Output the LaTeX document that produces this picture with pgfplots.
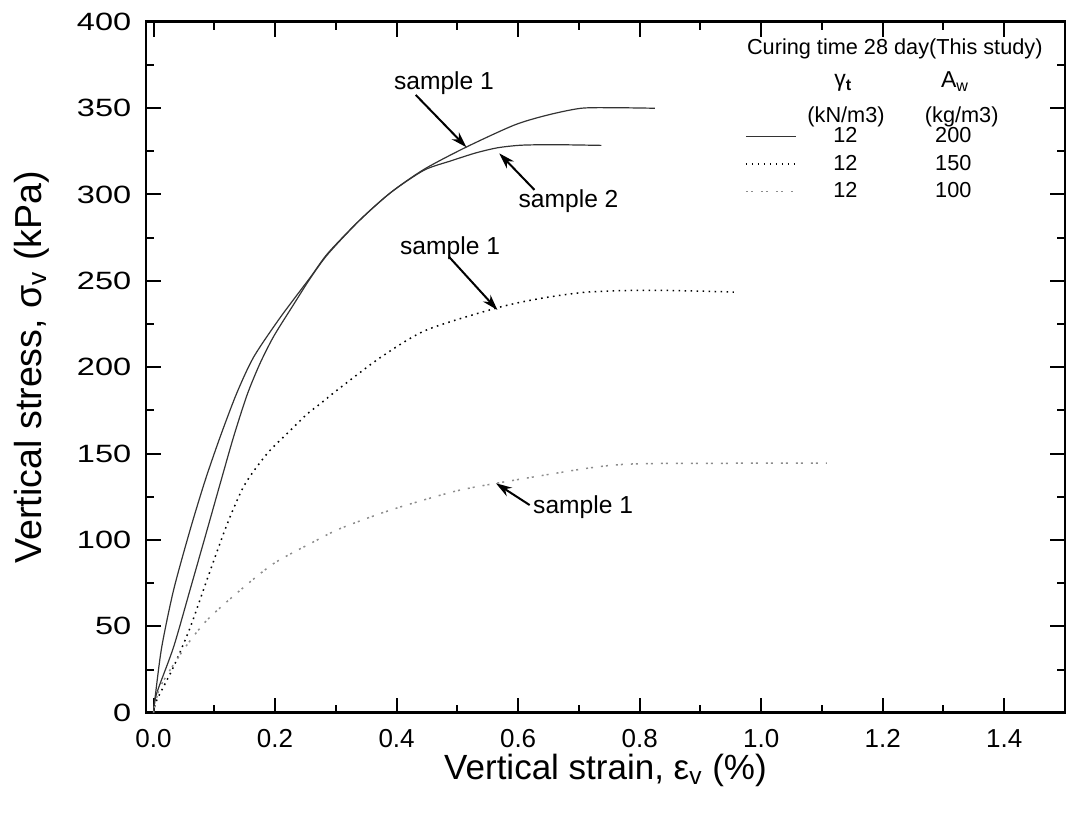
\documentclass[border=0pt]{standalone}
\usepackage{fontspec}
\setmainfont{Liberation Sans}
\usepackage{graphicx}
\usepackage{pgfplots}
\pgfplotsset{compat=1.18}
\usetikzlibrary{arrows.meta,calc}
\begin{document}
\begin{tikzpicture}
\begin{axis}[
  scale only axis, width=459.5pt, height=345.5pt,
  xmin=-0.0124, xmax=1.5, ymin=0, ymax=400,
  xtick={0,0.2,0.4,0.6,0.8,1.0,1.2,1.4},
  ytick={0,50,100,150,200,250,300,350,400},
  minor x tick num=1, minor y tick num=1,
  tick align=inside, tick pos=both,
  xticklabel pos=left, yticklabel pos=left,
  major tick length=7.5pt, minor tick length=4pt,
  every tick/.style={line width=1pt, black},
  axis line style={line width=1.2pt},
  /pgf/number format/assume math mode=true,
  xticklabel style={font=\fontsize{13}{15}\selectfont, anchor=north, inner sep=0pt, yshift=-7.5pt,
    text height=9.5pt, text depth=0pt,
    /pgf/number format/.cd, fixed, fixed zerofill, precision=1},
  yticklabel={\scalebox{1.3}[1]{\pgfmathprintnumber{\tick}}},
  yticklabel style={font=\fontsize{12.5}{14}\selectfont, anchor=east, inner sep=0pt, xshift=-7.2pt},
  xlabel={Vertical strain, ε\textsubscript{v} (\%)},
  xlabel style={font=\fontsize{17.5}{20}\selectfont, at={(axis description cs:0.5,-0.0835)}, anchor=center},
  ylabel={Vertical stress, σ\textsubscript{v} (kPa)},
  ylabel style={font=\fontsize{18.8}{21}\selectfont, at={(axis description cs:-0.124,0.5)}, anchor=center},
  legend image code/.code={\draw[#1] (0pt,0pt) -- (25pt,0pt);},
  legend style={at={(0.6518,0.848)}, anchor=north west, draw=none, fill=none,
    inner sep=0pt, outer sep=0pt, row sep=3.75pt, column sep=0pt,
    font=\fontsize{10.85}{12}\selectfont,
    nodes={inner sep=0pt, text height=8pt, text depth=2pt}},
  legend cell align=left,
  clip=false,
]
% A_w = 200, sample 1
\addplot[black!80, line width=0.6pt, smooth, tension=0.45] coordinates {
(0.000,0) (0.003,10) (0.0135,38) (0.033,71) (0.060,105.6) (0.085,134.5)
(0.110,160) (0.137,185) (0.165,206) (0.209,229) (0.258,252) (0.287,266)
(0.339,285) (0.390,301) (0.445,314.5) (0.514,327.3)
(0.594,340.2) (0.649,346) (0.704,349.9) (0.76,350.2) (0.825,349.9)
};
\addlegendentry{\makebox[49pt]{12}\makebox[58.8pt]{200}}
% A_w = 200, sample 2
\addplot[black!80, line width=0.6pt, smooth, tension=0.45, forget plot] coordinates {
(0.000,0) (0.005,11) (0.033,38) (0.060,71) (0.088,105.6) (0.110,133)
(0.132,160) (0.154,184) (0.175,202) (0.198,218) (0.230,236) (0.258,251.5)
(0.287,265.5) (0.339,285) (0.390,301) (0.445,314)
(0.49,319.5) (0.53,324) (0.566,327) (0.605,328.5) (0.66,328.8) (0.737,328.4)
};
% A_w = 150, sample 1
\addplot[black, line width=0.75pt, dash pattern=on 0.8pt off 2.2pt, smooth, tension=0.45] coordinates {
(0.000,0) (0.005,7) (0.033,26.6) (0.060,49) (0.088,77) (0.121,109)
(0.150,132) (0.187,150) (0.221,162) (0.250,172) (0.262,175.5) (0.275,179)
(0.305,187.5) (0.375,206) (0.449,221.5) (0.567,234.5) (0.64,240) (0.714,243.5)
(0.80,244.5) (0.88,244.2) (0.955,243.5)
};
\addlegendentry{\makebox[49pt]{12}\makebox[58.8pt]{150}}
% A_w = 100, sample 1
\addplot[black!45, line width=0.75pt, dash pattern=on 1pt off 1.5pt on 1pt off 4pt, smooth, tension=0.45] coordinates {
(0.000,0) (0.011,15) (0.049,36.3) (0.088,53.6) (0.143,71) (0.198,86.4)
(0.264,99) (0.308,106.7) (0.39,117.3) (0.493,127.9) (0.564,132.8)
(0.714,141.5) (0.79,144) (0.95,144.4) (1.108,144.4)
};
\addlegendentry{\makebox[49pt]{12}\makebox[58.8pt]{100}}

% legend header
\node[font=\fontsize{10.85}{12}\selectfont, anchor=west, inner sep=0pt] at (axis description cs:0.6536,0.960) {Curing time 28 day(This study)};
\node[font=\fontsize{11.5}{12}\selectfont, inner sep=0pt] at (axis description cs:0.7588,0.9113) {γ\textsubscript{\textbf{t}}};
\node[font=\fontsize{11.5}{12}\selectfont, inner sep=0pt] at (axis description cs:0.8803,0.9132) {A\textsubscript{w}};
\node[font=\fontsize{10.85}{12}\selectfont, inner sep=0pt] at (axis description cs:0.7617,0.8625) {(kN/m3)};
\node[font=\fontsize{10.85}{12}\selectfont, inner sep=0pt] at (axis description cs:0.8876,0.8625) {(kg/m3)};

% annotations
\node[font=\fontsize{12.3}{14}\selectfont, inner sep=0pt] at (axis cs:0.478,364.3) {sample 1};
\node[font=\fontsize{12.3}{14}\selectfont, inner sep=0pt] at (axis cs:0.683,296.3) {sample 2};
\node[font=\fontsize{12.3}{14}\selectfont, inner sep=0pt] at (axis cs:0.488,268.8) {sample 1};
\node[font=\fontsize{12.3}{14}\selectfont, inner sep=0pt] at (axis cs:0.707,118.8) {sample 1};
\draw[line width=1pt, -{Stealth[length=8pt,width=5pt]}] (axis cs:0.4315,357.6) -- (axis cs:0.515,327.3);
\draw[line width=1pt, -{Stealth[length=8pt,width=5pt]}] (axis cs:0.627,302.6) -- (axis cs:0.569,323.8);
\draw[line width=1pt, -{Stealth[length=8pt,width=5pt]}] (axis cs:0.486,264) -- (axis cs:0.566,233.1);
\draw[line width=1pt, -{Stealth[length=8pt,width=5pt]}] (axis cs:0.619,120.2) -- (axis cs:0.5635,132.8);
\end{axis}
\pgfresetboundingbox
\path ($(current axis.south west)+(-73pt,-52.15pt)$) rectangle ($(current axis.north east)+(3.5pt,10.85pt)$);
\end{tikzpicture}
\end{document}
